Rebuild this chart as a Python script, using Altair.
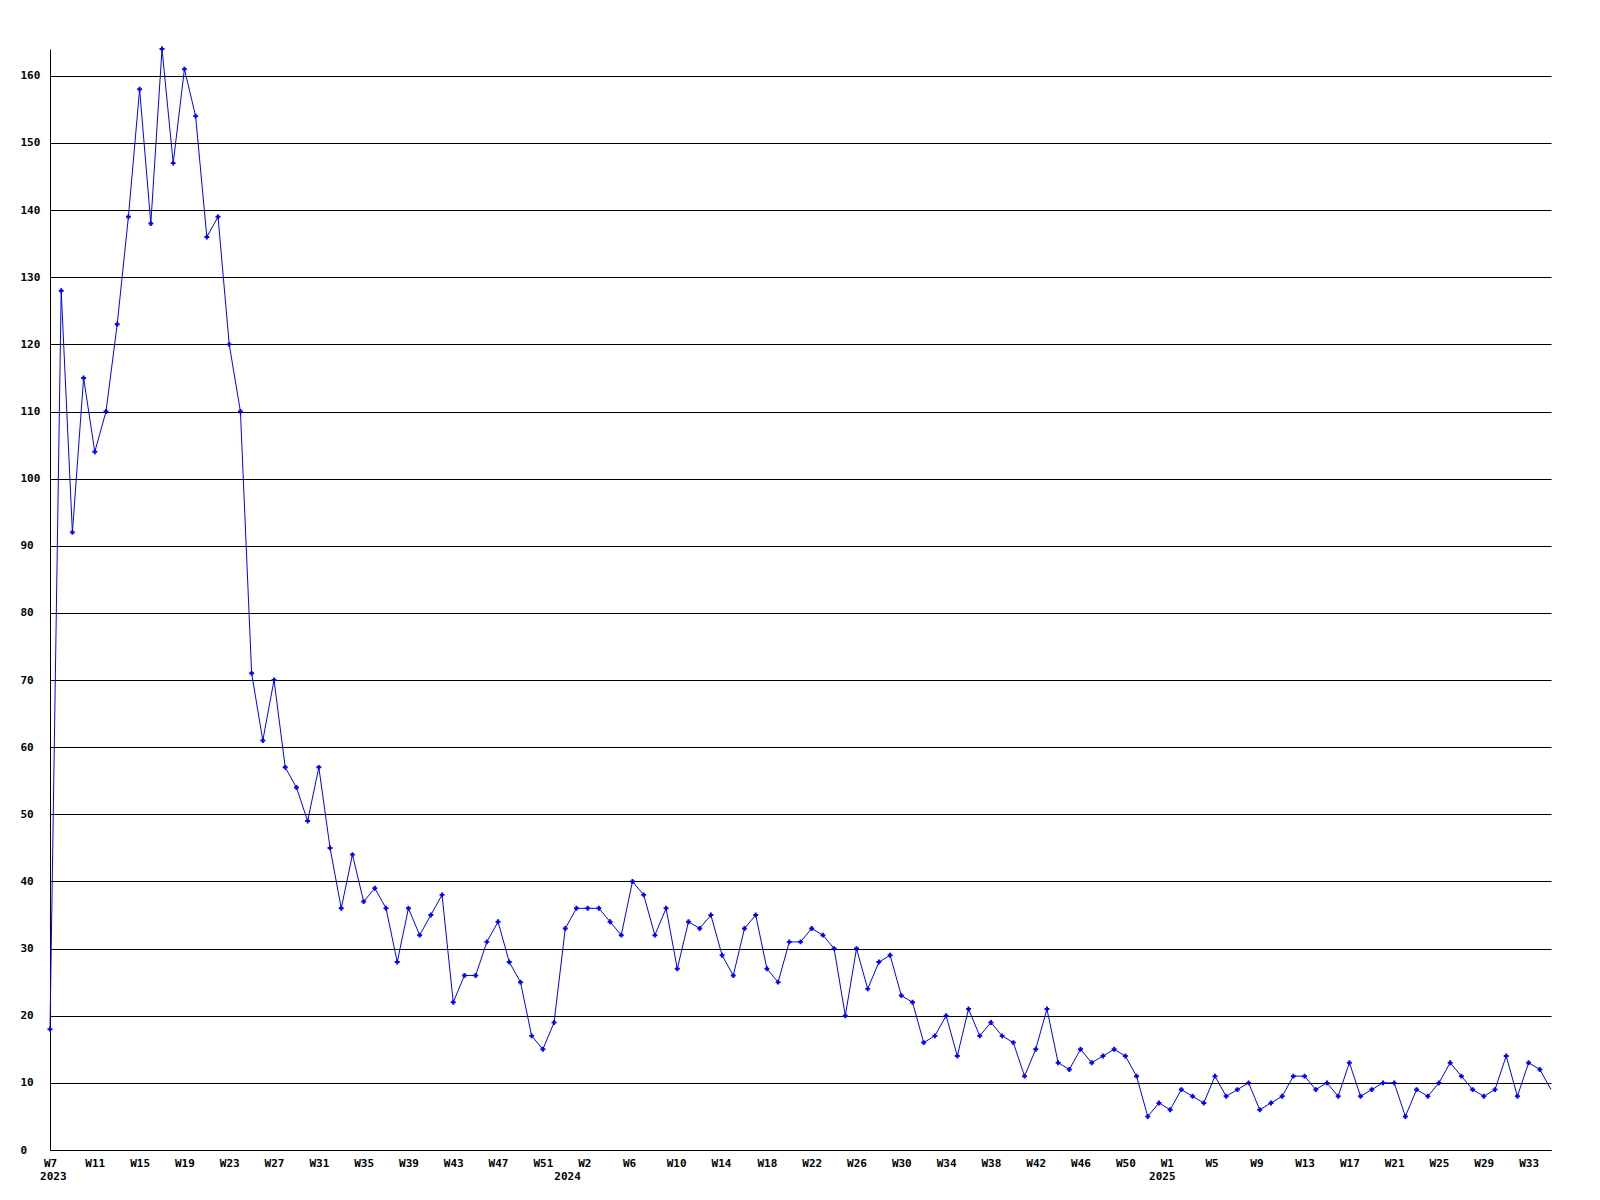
import altair as alt
import pandas as pd

# weekly counts, 2023 W7 .. 2025 W35
values = [
    18, 128, 92, 115, 104, 110, 123, 139, 158, 138,
    164, 147, 161, 154, 136, 139, 120, 110, 71, 61,
    70, 57, 54, 49, 57, 45, 36, 44, 37, 39,
    36, 28, 36, 32, 35, 38, 22, 26, 26, 31,
    34, 28, 25, 17, 15, 19, 33, 36, 36, 36,
    34, 32, 40, 38, 32, 36, 27, 34, 33, 35,
    29, 26, 33, 35, 27, 25, 31, 31, 33, 32,
    30, 20, 30, 24, 28, 29, 23, 22, 16, 17,
    20, 14, 21, 17, 19, 17, 16, 11, 15, 21,
    13, 12, 15, 13, 14, 15, 14, 11, 5, 7,
    6, 9, 8, 7, 11, 8, 9, 10, 6, 7,
    8, 11, 11, 9, 10, 8, 13, 8, 9, 10,
    10, 5, 9, 8, 10, 13, 11, 9, 8, 9,
    14, 8, 13, 12, 9,
]

week_labels = [
    "W7", "W11", "W15", "W19", "W23", "W27", "W31", "W35", "W39", "W43", "W47", "W51",
    "W2", "W6", "W10", "W14", "W18", "W22", "W26", "W30", "W34", "W38", "W42", "W46", "W50",
    "W1", "W5", "W9", "W13", "W17", "W21", "W25", "W29", "W33",
]
week_pos = [
    0, 4, 8, 12, 16, 20, 24, 28, 32, 36, 40, 44,
    47.7, 51.7, 55.9, 59.9, 64, 68, 72, 76, 80, 84, 88, 92, 96,
    99.7, 103.7, 107.7, 112, 116, 120, 124, 128, 132,
]
years = ["2023", "2024", "2025"]
year_pos = [0.3, 46.2, 99.3]

y_ticks = list(range(0, 161, 10))

df = pd.DataFrame({"i": list(range(len(values))), "v": values})
ydf = pd.DataFrame({"p": year_pos, "t": years})

label_expr = (
    "[" + ",".join("'%s'" % w for w in week_labels) + "]"
    + "[indexof([" + ",".join(str(p) for p in week_pos) + "], datum.value)]"
)

FONT = "DejaVu Sans Mono"
W = 1501
H = 1101
xmax = len(values) - 1

xscale = alt.Scale(domain=[0, xmax], nice=False, zero=False)
yscale = alt.Scale(domain=[0, 164], nice=False)

base = alt.Chart(df)

line = base.mark_line(color="#0000ff", strokeWidth=1).encode(
    x=alt.X("i:Q", scale=xscale, axis=alt.Axis(
        values=week_pos, labelExpr=label_expr, grid=False, ticks=False,
        domainColor="black", domainWidth=1, labelFont=FONT, labelFontWeight="bold",
        labelFontSize=11, labelColor="black", labelPadding=7, labelBaseline="top",
        labelAlign="center", labelOverlap=False, labelFlush=False, labelBound=False,
        title=None)),
    y=alt.Y("v:Q", scale=yscale, axis=alt.Axis(
        values=y_ticks, grid=True, gridColor="black", gridOpacity=1, gridWidth=1,
        ticks=False, domainColor="black", domainWidth=1, labelFont=FONT,
        labelFontWeight="bold", labelFontSize=11, labelColor="black",
        labelAlign="left", labelPadding=30, labelBaseline="middle", title=None)),
)

points = base.transform_filter(alt.datum.i < xmax).mark_point(
    shape="cross", filled=True, size=24, color="#0000ff", opacity=1
).encode(x=alt.X("i:Q", scale=xscale), y=alt.Y("v:Q", scale=yscale))

year_text = alt.Chart(ydf).mark_text(
    font=FONT, fontWeight="bold", fontSize=11, color="black", baseline="middle", align="center"
).encode(x=alt.X("p:Q", scale=xscale), y=alt.value(H + 27), text="t:N")

chart = alt.layer(line, points, year_text).properties(
    width=W, height=H,
    autosize="none",
    background="white",
    padding={"left": 42, "top": 41, "right": 20, "bottom": 40},
).configure_view(stroke=None)

chart.save("out.html", embed_options={"renderer": "svg", "actions": False})
